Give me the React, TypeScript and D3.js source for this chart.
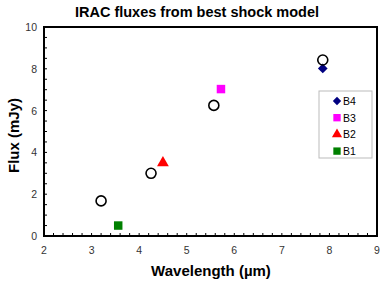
import * as React from 'react';
import * as d3 from 'd3';

// model (open circles)
const modelWave = [3.2, 4.25, 5.57, 7.86];
const modelFlux = [1.68, 3.0, 6.25, 8.42];

// observed IRAC bands
const bandNames = ['B1', 'B2', 'B3', 'B4'];
const bandWave = [3.56, 4.5, 5.72, 7.86];
const bandFlux = [0.5, 3.5, 7.03, 8.02];
const bandColors = ['#008000', '#ff0000', '#ff00ff', '#000080'];
const bandShapes = [d3.symbolSquare, d3.symbolTriangle, d3.symbolSquare, d3.symbolDiamond2];

const xTicks = [2, 3, 4, 5, 6, 7, 8, 9];
const yTicks = [0, 2, 4, 6, 8, 10];

const W = 386, H = 288;
const left = 44, right = 377, top = 27, bottom = 236;

export default function App() {
  const x = d3.scaleLinear().domain([2, 9]).range([left, right]);
  const y = d3.scaleLinear().domain([0, 10]).range([bottom, top]);
  const xMinor = d3.range(2, 9.001, 0.2);
  const yMinor = d3.range(0, 10.001, 0.5);
  const font = 'Liberation Sans, Arial, sans-serif';
  const shapeSize = (i: number) => (bandShapes[i] === d3.symbolDiamond2 ? 60 : bandShapes[i] === d3.symbolTriangle ? 60 : 72);
  const legendOrder = [3, 2, 1, 0];

  return (
    <svg width={W} height={H} style={{ position: 'absolute', left: 0, top: 0 }} fontFamily={font}>
      <rect width={W} height={H} fill="#fff" />
      <text x={197} y={17} textAnchor="middle" fontSize={14.5} fontWeight="bold">IRAC fluxes from best shock model</text>

      {xMinor.map((v, i) => (
        <line key={'xm' + i} x1={x(v)} x2={x(v)} y1={bottom} y2={bottom - 3} stroke="#000" strokeWidth={1} />
      ))}
      {yMinor.map((v, i) => (
        <line key={'ym' + i} x1={left} x2={left + 3} y1={y(v)} y2={y(v)} stroke="#000" strokeWidth={1} />
      ))}
      <rect x={left} y={top} width={right - left} height={bottom - top} fill="none" stroke="#000" strokeWidth={2} />

      {xTicks.map(v => (
        <text key={'xt' + v} x={x(v)} y={bottom + 18} textAnchor="middle" fontSize={10.5} fill="#333">{v}</text>
      ))}
      {yTicks.map(v => (
        <text key={'yt' + v} x={left - 7} y={y(v) + 4} textAnchor="end" fontSize={10.5} fill="#333">{v}</text>
      ))}

      <text x={211} y={276} textAnchor="middle" fontSize={15} fontWeight="bold">Wavelength (µm)</text>
      <text transform={`translate(19, ${(top + bottom) / 2 + 4}) rotate(-90)`} textAnchor="middle" fontSize={15} fontWeight="bold">Flux (mJy)</text>

      {bandWave.map((w, i) => (
        <path key={'b' + i} d={d3.symbol(bandShapes[i], shapeSize(i))() || ''}
          transform={`translate(${x(w)}, ${y(bandFlux[i])})`} fill={bandColors[i]} />
      ))}
      {modelWave.map((w, i) => (
        <circle key={'m' + i} cx={x(w)} cy={y(modelFlux[i])} r={5} fill="none" stroke="#000" strokeWidth={1.6} />
      ))}

      <rect x={319} y={91} width={53} height={67} fill="#fff" stroke="#bbb" strokeWidth={1} />
      {legendOrder.map((b, k) => (
        <g key={'l' + b} transform={`translate(0, ${101 + k * 16.7})`}>
          <path d={d3.symbol(bandShapes[b], shapeSize(b) * 0.75)() || ''} transform="translate(337, 0)" fill={bandColors[b]} />
          <text x={343} y={4} fontSize={10.5} fill="#000">{bandNames[b]}</text>
        </g>
      ))}
    </svg>
  );
}
